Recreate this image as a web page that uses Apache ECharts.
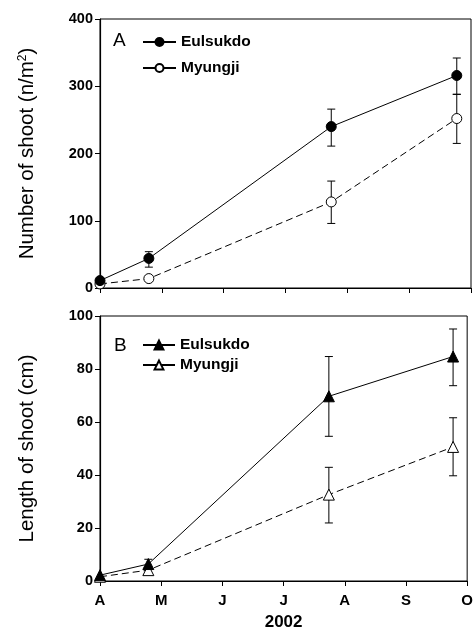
<!DOCTYPE html>
<html><head><meta charset="utf-8">
<script src="https://cdn.jsdelivr.net/npm/echarts@6/dist/echarts.min.js"></script>
<style>html,body{margin:0;padding:0;background:#fff}#c{width:476px;height:632px}</style>
</head><body><div id="c"></div>
<script>
// Sampling dates, expressed as months after 1 April 2002
const samplePos = [0, 0.79, 3.74, 5.77];
const monthLabels = ['A', 'M', 'J', 'J', 'A', 'S', 'O'];
// Panel A: number of shoots (n/m2)
const shootNumEul = [11, 44, 240, 316];
const shootNumEulLow = [11, 31, 211, 288];
const shootNumEulHigh = [11, 54, 266, 342];
const shootNumMyu = [6, 14, 128, 252];
const shootNumMyuLow = [6, 14, 96, 215];
const shootNumMyuHigh = [6, 14, 159, 288];
// Panel B: length of shoot (cm)
const shootLenEul = [2.2, 6.4, 69.7, 84.7];
const shootLenEulLow = [2.2, 4.7, 54.6, 73.7];
const shootLenEulHigh = [2.2, 8.2, 84.7, 95.1];
const shootLenMyu = [1.6, 4.1, 32.6, 50.6];
const shootLenMyuLow = [1.6, 4.1, 21.9, 39.7];
const shootLenMyuHigh = [1.6, 4.1, 42.9, 61.6];

const FONT = 'Liberation Sans, Arial, sans-serif';
const pts = (ys) => samplePos.map((x, i) => [x, ys[i]]);
const errData = (lo, hi) => samplePos.map((x, i) => [x, lo[i], hi[i]]);

function errSeries(idx, lo, hi) {
  return {
    type: 'custom', xAxisIndex: idx, yAxisIndex: idx, z: 1, silent: true,
    data: errData(lo, hi),
    renderItem: function (params, api) {
      const x = api.value(0);
      const p1 = api.coord([x, api.value(1)]);
      const p2 = api.coord([x, api.value(2)]);
      if (Math.abs(p1[1] - p2[1]) < 1) return null;
      const w = 4;
      const st = { stroke: '#000', lineWidth: 1 };
      return {
        type: 'group', children: [
          { type: 'line', shape: { x1: p1[0], y1: p1[1], x2: p2[0], y2: p2[1] }, style: st },
          { type: 'line', shape: { x1: p1[0] - w, y1: p1[1], x2: p1[0] + w, y2: p1[1] }, style: st },
          { type: 'line', shape: { x1: p2[0] - w, y1: p2[1], x2: p2[0] + w, y2: p2[1] }, style: st }
        ]
      };
    }
  };
}

function lineSeries(name, idx, data, symbol, filled, dashed, size) {
  return {
    name: name, type: 'line', xAxisIndex: idx, yAxisIndex: idx, z: 3,
    data: data, symbol: symbol, symbolSize: size, showSymbol: true,
    lineStyle: { color: '#000', width: 1, type: dashed ? [7, 4] : 'solid' },
    itemStyle: { color: filled ? '#000' : '#fff', borderColor: '#000', borderWidth: 1 },
    animation: false
  };
}

const xAxisBase = (idx, showLabels) => ({
  type: 'value', gridIndex: idx, min: 0, max: 6, interval: 1,
  axisLine: { show: true, lineStyle: { color: '#000', width: 1.2 } },
  axisTick: { show: true, inside: false, length: 5, lineStyle: { color: '#000' } },
  splitLine: { show: false },
  axisLabel: {
    show: showLabels, color: '#000', fontFamily: FONT, fontWeight: 'bold', fontSize: 15, margin: 12,
    formatter: v => monthLabels[Math.round(v)] || ''
  },
  name: showLabels ? '2002' : '', nameLocation: 'middle', nameGap: 33,
  nameTextStyle: { color: '#000', fontFamily: FONT, fontWeight: 'bold', fontSize: 17 }
});

const yAxisBase = (idx, max, interval, name, nameGap) => ({
  type: 'value', gridIndex: idx, min: 0, max: max, interval: interval,
  axisLine: { show: true, lineStyle: { color: '#000', width: 1.2 } },
  axisTick: { show: true, inside: false, length: 5, lineStyle: { color: '#000' } },
  splitLine: { show: false },
  axisLabel: { color: '#000', fontFamily: FONT, fontWeight: 'bold', fontSize: 14.5, margin: 7 },
  name: name, nameLocation: 'middle', nameGap: nameGap,
  nameTextStyle: {
    color: '#000', fontFamily: FONT, fontSize: 20.5,
    rich: { sup: { fontSize: 12, verticalAlign: 'top', color: '#000', fontFamily: FONT, padding: [0, 0, 9, 0] } }
  }
});

const legendText = { color: '#000', fontFamily: FONT, fontWeight: 'bold', fontSize: 15.5 };

const chart = echarts.init(document.getElementById('c'), null, { renderer: 'canvas' });
chart.setOption({
  animation: false,
  backgroundColor: '#fff',
  grid: [
    { left: 100, right: 5, top: 19, height: 269, show: true, borderColor: '#000', borderWidth: 1 },
    { left: 100, right: 5, top: 316, height: 267, show: true, borderColor: '#000', borderWidth: 1 }
  ],
  xAxis: [xAxisBase(0, false), xAxisBase(1, true)],
  yAxis: [
    yAxisBase(0, 400, 100, 'Number of shoot (n/m{sup|2})', 62),
    yAxisBase(1, 100, 20, 'Length of shoot (cm)', 62)
  ],
  legend: [
    { data: ['Eulsukdo', 'Myungji'], left: 137, top: 29, orient: 'vertical', itemGap: 10, itemWidth: 33, itemHeight: 10,
      lineStyle: { type: 'solid' }, textStyle: legendText },
    { data: ['Eulsukdo ', 'Myungji '], left: 137, top: 332, orient: 'vertical', itemGap: 4, itemWidth: 32, itemHeight: 11,
      lineStyle: { type: 'solid' }, textStyle: legendText }
  ],
  graphic: [
    { type: 'text', left: 113, top: 31, style: { text: 'A', fill: '#000', font: '19px ' + FONT } },
    { type: 'text', left: 114, top: 336, style: { text: 'B', fill: '#000', font: '19px ' + FONT } }
  ],
  series: [
    errSeries(0, shootNumEulLow, shootNumEulHigh),
    errSeries(0, shootNumMyuLow, shootNumMyuHigh),
    lineSeries('Myungji', 0, pts(shootNumMyu), 'circle', false, true, 10),
    lineSeries('Eulsukdo', 0, pts(shootNumEul), 'circle', true, false, 10),
    errSeries(1, shootLenEulLow, shootLenEulHigh),
    errSeries(1, shootLenMyuLow, shootLenMyuHigh),
    lineSeries('Myungji ', 1, pts(shootLenMyu), 'triangle', false, true, 11),
    lineSeries('Eulsukdo ', 1, pts(shootLenEul), 'triangle', true, false, 11)
  ]
});
</script></body></html>
